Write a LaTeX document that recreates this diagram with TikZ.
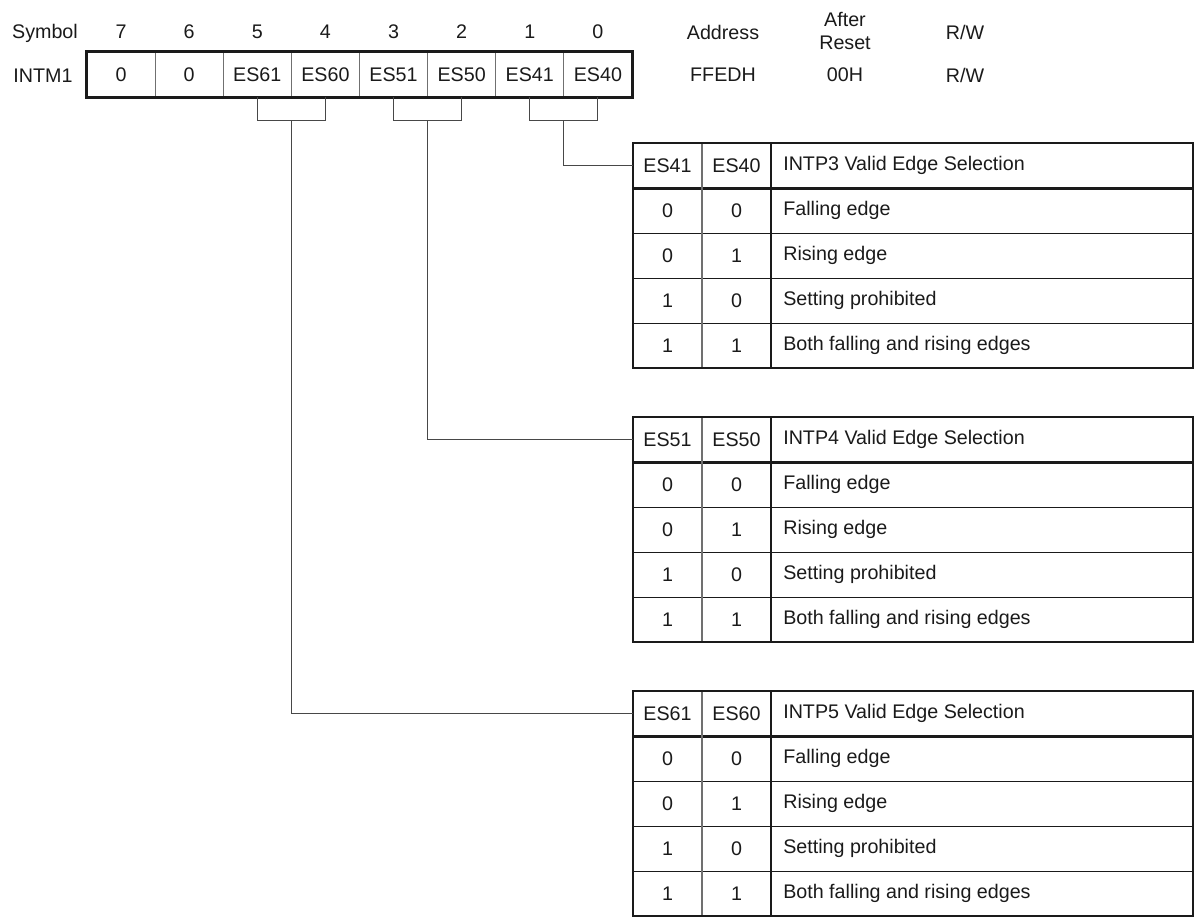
\documentclass[tikz,border=0pt]{standalone}
\usepackage{fontspec}
\setmainfont{Liberation Sans}
\usepackage{tikz}
\usetikzlibrary{positioning,calc}
\definecolor{ink}{HTML}{1A1A1A}
\definecolor{mid}{HTML}{707070}
\tikzset{
  frame/.style={ink,line width=1.8pt},
  hair/.style={ink,line width=0.7pt},
  gline/.style={mid,line width=0.9pt},
  wire/.style={ink!80,line width=0.7pt},
  lbl/.style={font=\fontsize{14}{17}\selectfont,inner sep=0pt,text=ink},
  regcell/.style={draw=mid,line width=0.7pt,minimum width=1.703cm,minimum height=1.125cm,inner sep=0pt,font=\fontsize{14}{17}\selectfont,text=ink},
}
\newcommand{\edgetable}[4]{% <top y> <name> <digit> <INTP>
  \begin{scope}[shift={(0,#1)}]
    \foreach \r in {2,3,4} \draw[hair] (633,\r*45) -- (1193,\r*45);
    \draw[frame] (633,45.5) -- (1193,45.5);
    \draw[gline] (702,0) -- (702,225);
    \draw[frame] (771,0) -- (771,225);
    \draw[frame] (633,0) rectangle (1193,225);
    \coordinate (#2in) at (633,22.7);
    \node[lbl] (#2h1) at (667.5,22.7) {ES#31};
    \node[lbl] (#2h0) at (736.5,22.7) {ES#30};
    \node[lbl,anchor=west] (#2hd) at (783,22.7) {#4 Valid Edge Selection};
    \foreach \a/\b/\d [count=\r] in {0/0/Falling edge,0/1/Rising edge,1/0/Setting prohibited,1/1/Both falling and rising edges} {
      \node[lbl] (#2a\r) at (667.5,22.5+\r*45) {\a};
      \node[lbl] (#2b\r) at (736.5,22.5+\r*45) {\b};
      \node[lbl,anchor=west] (#2d\r) at (783,22.5+\r*45) {\d};
    }
  \end{scope}}

\begin{document}
\begin{tikzpicture}[x=0.025cm,y=-0.025cm]
  \useasboundingbox (0,0) rectangle (1196,918);
  \node[lbl] (sym) at (45,33) {Symbol};
  \node[lbl] (reg) at (43,76) {INTM1};
  \foreach \t/\b [count=\i from 0] in {0/7,0/6,ES61/5,ES60/4,ES51/3,ES50/2,ES41/1,ES40/0} {
    \node[regcell] (c\i) at ({121.06+\i*68.125},74.5) {\t};
    \node[lbl] (n\i) at ({121.06+\i*68.125},32) {\b};
  }
  \draw[frame] (c0.north west) rectangle (c7.south east);
  \node[lbl] (adr) at (723,32) {Address};
  \node[lbl,align=center] (rst) at (845,31) {After\\Reset};
  \node[lbl] (rw) at (965,32) {R/W};
  \node[lbl] (adrv) at (723,75) {FFEDH};
  \node[lbl] (rstv) at (845,75) {00H};
  \node[lbl] (rwv) at (965,75) {R/W};
  \edgetable{143}{ta}{4}{INTP3}
  \edgetable{417}{tb}{5}{INTP4}
  \edgetable{691}{tc}{6}{INTP5}
  \foreach \p/\q/\t in {2/3/tc,4/5/tb,6/7/ta} {
    \coordinate (j\p) at ($(c\p.south)!0.5!(c\q.south)+(0,23)$);
    \draw[wire] (c\p.south) |- (j\p) -| (c\q.south);
    \draw[wire] (j\p) |- (\t in);
  }
\end{tikzpicture}
\end{document}
